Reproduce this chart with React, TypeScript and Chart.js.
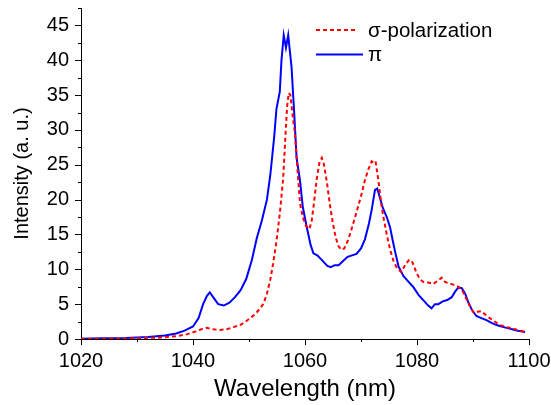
import React, { useEffect, useRef } from "react";
import { Chart, registerables } from "chart.js";

Chart.register(...registerables);

// π polarization: wavelength (nm) and intensity (a. u.)
const piWavelength = [
  1020, 1024, 1028, 1032, 1035, 1037, 1038.5, 1040, 1041, 1041.8, 1042.5, 1043, 1043.6, 1044.5,
  1045.5, 1046.5, 1047.5, 1048.5, 1049.5, 1050.5, 1051.4, 1052.3, 1053.2, 1053.8, 1054.5, 1054.9,
  1055.5, 1055.8, 1056.2, 1056.6, 1057.0, 1057.6, 1058.1, 1058.5, 1059.1, 1059.6, 1060.2, 1060.6,
  1061.0, 1061.5, 1062.2, 1062.7, 1063.4, 1064, 1064.6, 1065.3, 1066, 1066.8, 1067.6, 1068.4,
  1069.2, 1070, 1070.7, 1071.4, 1071.9, 1072.5, 1072.9, 1073.4, 1073.9, 1074.6, 1075.2, 1075.7,
  1076.1, 1076.7, 1077.6, 1078.5, 1079.3, 1080.3, 1081.2, 1082, 1082.6, 1083.2, 1083.8, 1084.6,
  1085.4, 1086.2, 1086.8, 1087.4, 1088, 1088.6, 1089.2, 1089.8, 1090.6, 1091.5, 1092.4, 1093.3,
  1094.2, 1095.1, 1096, 1097, 1097.8, 1098.6, 1099.3,
];
const piIntensity = [
  0.05, 0.1, 0.15, 0.3, 0.5, 0.8, 1.2, 1.8, 3.0, 5.0, 6.2, 6.7, 6.0, 5.0,
  4.8, 5.2, 6.0, 7.0, 8.6, 11.3, 14.5, 17, 20, 23.5, 29, 33,
  35.5, 40, 43.6, 41.8, 43.6, 39, 32, 26, 22.8, 19, 16.5, 15.0,
  13.5, 12.3, 12.0, 11.6, 11.0, 10.5, 10.3, 10.6, 10.6, 11.2, 11.8, 12.0,
  12.2, 13.0, 14.3, 16.5, 18.5, 21.4, 21.6, 20.2, 18.8, 17.5, 16.0, 14.0,
  12.5, 10.4, 9.0, 8.2, 7.5, 6.3, 5.5, 4.8, 4.4, 5.0, 5.0, 5.4,
  5.6, 6.0, 6.8, 7.4, 7.3, 6.5, 5.2, 4.2, 3.3, 3.0, 2.7, 2.3,
  2.0, 1.8, 1.6, 1.4, 1.2, 1.1, 1.0,
];

// σ polarization: wavelength (nm) and intensity (a. u.)
const sigmaWavelength = [
  1020, 1025, 1030, 1034, 1037, 1039, 1040.5, 1041.5, 1042.4, 1043.5, 1044.8, 1046, 1047.2,
  1048.4, 1049.4, 1050.2, 1051, 1052, 1052.6, 1053.2, 1053.8, 1054.3, 1054.9, 1055.5, 1056.1,
  1056.5, 1056.8, 1057.1, 1057.4, 1057.8, 1058.2, 1058.6, 1059.1, 1059.6, 1060.2, 1060.8, 1061.2,
  1061.6, 1062.1, 1062.6, 1063.0, 1063.4, 1063.9, 1064.5, 1065.0, 1065.5, 1066.0, 1066.5, 1067.0,
  1067.7, 1068.4, 1069.2, 1070, 1070.7, 1071.3, 1071.9, 1072.3, 1072.6, 1073.1, 1073.6, 1074.0,
  1074.6, 1075.2, 1075.8, 1076.4, 1077.2, 1077.8, 1078.6, 1079.2, 1079.9, 1080.5, 1081.1, 1082,
  1082.9, 1083.6, 1084.4, 1085, 1085.6, 1086.5, 1087.4, 1088.2, 1088.9, 1089.5, 1090.1, 1090.8,
  1091.5, 1092.2, 1093, 1093.9, 1094.8, 1096, 1097.2, 1098.3, 1099.3,
];
const sigmaIntensity = [
  0.02, 0.05, 0.1, 0.2, 0.4, 0.7, 1.1, 1.4, 1.6, 1.4, 1.3, 1.4, 1.7,
  2.0, 2.5, 3.0, 3.5, 4.4, 5.1, 6.5, 8.5, 10.8, 14, 18, 23,
  29, 33.3, 35.3, 35, 32, 29.5, 25, 19.5, 17.5, 16.2, 15.8, 17,
  19.5, 23, 25.4, 26.0, 25, 22.5, 19, 16.5, 14.5, 13.3, 12.8, 13.0,
  14.2, 16, 18.2, 20.5, 22.8, 24.3, 25.5, 25.3, 25.5, 22.8, 19.5, 17.5,
  15, 12.8, 11.2, 10.2, 9.6, 10.5, 11.4, 11.0, 9.5, 8.6, 8.2, 8.1,
  7.9, 8.3, 8.8, 8.2, 8.0, 7.8, 7.5, 6.8, 5.6, 4.6, 3.8, 3.9,
  4.0, 3.5, 3.0, 2.5, 2.0, 1.7, 1.5, 1.2, 1.0,
];

const xTickValues = [1020, 1040, 1060, 1080, 1100];
const yTickValues = [0, 5, 10, 15, 20, 25, 30, 35, 40, 45];
const seriesLabels = ["σ-polarization", "π"];

const FONT = "'Liberation Sans', Arial, Helvetica, sans-serif";

const minorTicksPlugin = {
  id: "minorTicks",
  afterDraw(chart: any) {
    const ctx = chart.ctx;
    const xs = chart.scales.x;
    const ys = chart.scales.y;
    const area = chart.chartArea;
    ctx.save();
    ctx.strokeStyle = "#000";
    ctx.lineWidth = 1;
    ctx.beginPath();
    for (let v = 1020; v <= 1100; v += 10) {
      const px = Math.round(xs.getPixelForValue(v)) + 0.5;
      const len = v % 20 === 0 ? 6 : 3;
      ctx.moveTo(px, area.bottom);
      ctx.lineTo(px, area.bottom + len);
    }
    for (let v = 0; v <= 47.5; v += 2.5) {
      const py = Math.round(ys.getPixelForValue(v)) + 0.5;
      const len = v % 5 === 0 ? 6 : 3;
      ctx.moveTo(area.left, py);
      ctx.lineTo(area.left - len, py);
    }
    ctx.stroke();
    ctx.restore();
  },
};

const legendPlugin = {
  id: "customLegend",
  afterDraw(chart: any) {
    const ctx = chart.ctx;
    ctx.save();
    ctx.font = `20.5px ${FONT}`;
    ctx.fillStyle = "#000";
    ctx.textBaseline = "middle";
    ctx.textAlign = "left";
    const items = [
      { label: chart.data.datasets[0].label, color: "#ff0000", dash: [4, 3], y: 30, x1: 316, x2: 358 },
      { label: chart.data.datasets[1].label, color: "#0000ff", dash: [], y: 54.5, x1: 316, x2: 363 },
    ];
    for (const it of items) {
      ctx.strokeStyle = it.color;
      ctx.lineWidth = 2;
      ctx.setLineDash(it.dash);
      ctx.beginPath();
      ctx.moveTo(it.x1, it.y);
      ctx.lineTo(it.x2, it.y);
      ctx.stroke();
      ctx.setLineDash([]);
      ctx.fillText(it.label, 368, it.y + 1);
    }
    ctx.restore();
  },
};

export default function App() {
  const ref = useRef<HTMLCanvasElement | null>(null);

  useEffect(() => {
    if (!ref.current) return;
    const toPoints = (xs: number[], ys: number[]) => xs.map((x, i) => ({ x, y: ys[i] }));
    const chart = new Chart(ref.current, {
      type: "line",
      data: {
        datasets: [
          {
            label: seriesLabels[0],
            data: toPoints(sigmaWavelength, sigmaIntensity),
            borderColor: "#ff0000",
            borderWidth: 2,
            borderDash: [4, 3],
            pointRadius: 0,
            fill: false,
            tension: 0,
          },
          {
            label: seriesLabels[1],
            data: toPoints(piWavelength, piIntensity),
            borderColor: "#0000ff",
            borderWidth: 2,
            pointRadius: 0,
            fill: false,
            tension: 0,
          },
        ],
      },
      options: {
        animation: false,
        responsive: false,
        layout: { padding: { top: 8, right: 22, left: 0, bottom: 0 } },
        plugins: { legend: { display: false }, tooltip: { enabled: false } },
        scales: {
          x: {
            type: "linear",
            min: 1020,
            max: 1100,
            afterBuildTicks: (s: any) => {
              s.ticks = xTickValues.map((v) => ({ value: v }));
            },
            afterFit: (s: any) => {
              s.height = 66;
              s.paddingLeft = 0;
              s.paddingRight = 0;
            },
            grid: { display: false, drawTicks: false },
            border: { display: true, color: "#000", width: 1 },
            ticks: {
              color: "#000",
              font: { family: FONT, size: 20 },
              padding: 10,
              maxRotation: 0,
              autoSkip: false,
              callback: (v: any) => String(v),
            },
            title: {
              display: true,
              text: "Wavelength (nm)",
              color: "#000",
              font: { family: FONT, size: 24 },
              padding: { top: 0, bottom: 1 },
            },
          },
          y: {
            type: "linear",
            min: 0,
            max: 47.5,
            afterBuildTicks: (s: any) => {
              s.ticks = yTickValues.map((v) => ({ value: v }));
            },
            afterFit: (s: any) => {
              s.width = 81;
              s.paddingTop = 0;
              s.paddingBottom = 0;
            },
            grid: { display: false, drawTicks: false },
            border: { display: true, color: "#000", width: 1 },
            ticks: {
              color: "#000",
              font: { family: FONT, size: 20 },
              padding: 12,
              autoSkip: false,
              callback: (v: any) => String(v),
            },
            title: {
              display: true,
              text: "Intensity (a. u.)",
              color: "#000",
              font: { family: FONT, size: 20 },
              padding: { top: 10, bottom: 0 },
            },
          },
        },
      },
      plugins: [minorTicksPlugin, legendPlugin],
    });
    return () => chart.destroy();
  }, []);

  return (
    <div style={{ position: "absolute", left: 0, top: 0, width: 551, height: 405, background: "#fff" }}>
      <canvas ref={ref} width={551} height={405} style={{ display: "block" }} />
    </div>
  );
}
